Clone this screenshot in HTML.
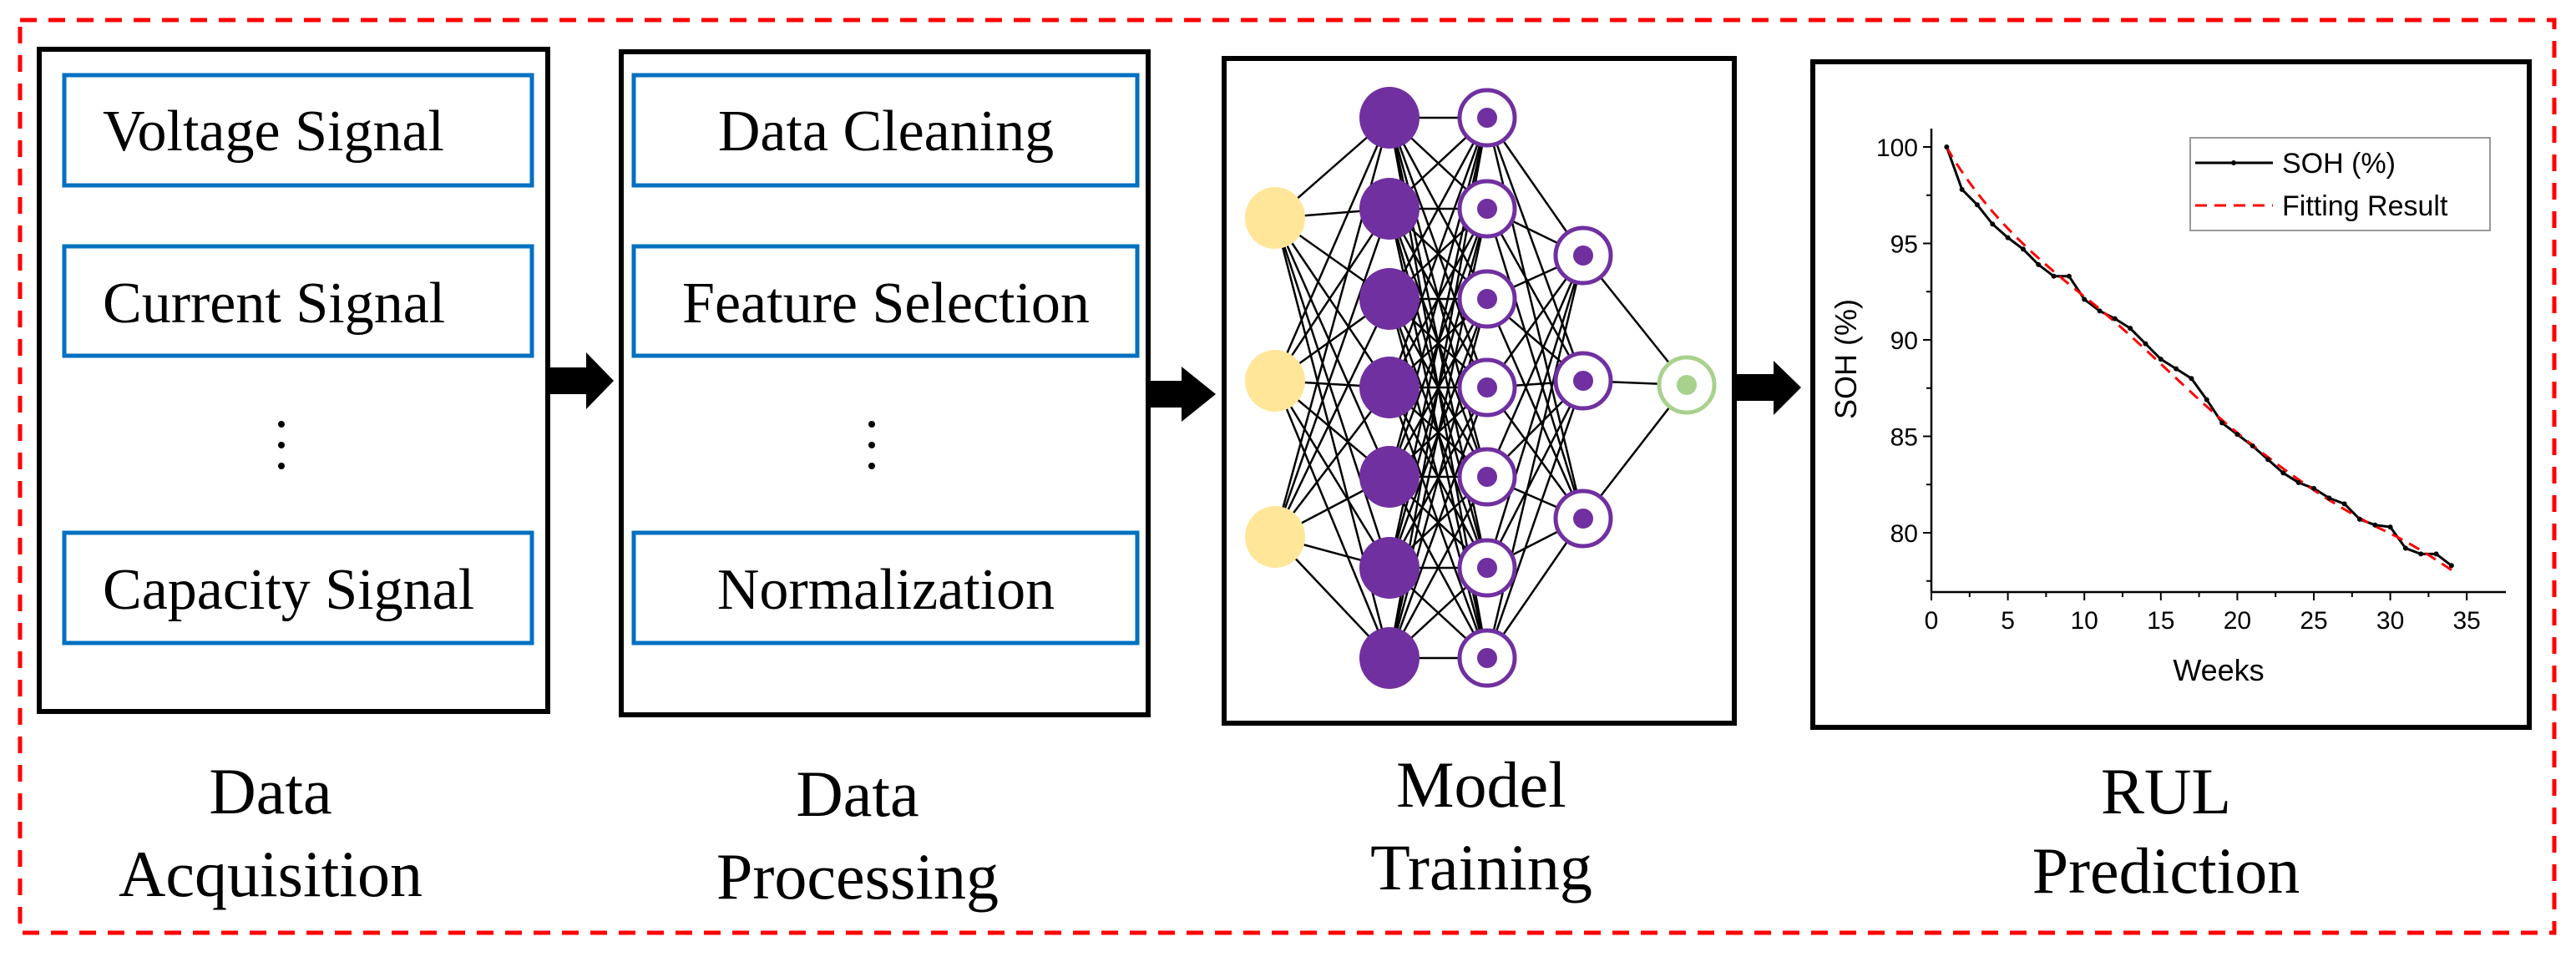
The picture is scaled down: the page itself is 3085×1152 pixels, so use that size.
<!DOCTYPE html>
<html><head><meta charset="utf-8"><style>html,body{margin:0;padding:0;background:#fff}svg{display:block}</style></head>
<body>
<svg id="s" width="3085" height="1152" viewBox="0 0 3085 1152" xmlns="http://www.w3.org/2000/svg">
<rect x="0" y="0" width="3085" height="1152" fill="#fff"/>
<rect x="24" y="24" width="3035" height="1093" fill="none" stroke="#ff0000" stroke-width="5" stroke-dasharray="20 14"/>
<rect x="47" y="59" width="609" height="793" fill="none" stroke="#000" stroke-width="6"/>
<g fill="none" stroke="#0070c0" stroke-width="5">
<rect x="77" y="90" width="560" height="132"/><rect x="77" y="295" width="560" height="131"/><rect x="77" y="638" width="560" height="132"/>
<rect x="759" y="90" width="603" height="132"/><rect x="759" y="295" width="603" height="131"/><rect x="759" y="638" width="603" height="132"/>
</g>
<rect x="744" y="62" width="631" height="794" fill="none" stroke="#000" stroke-width="6"/>
<g font-family="Liberation Serif, serif" font-size="70" fill="#000">
<text x="123" y="180">Voltage Signal</text>
<text x="123" y="386">Current Signal</text>
<text x="123" y="729">Capacity Signal</text>
<text x="1061" y="180" text-anchor="middle">Data Cleaning</text>
<text x="1061" y="386" text-anchor="middle">Feature Selection</text>
<text x="1061" y="729" text-anchor="middle">Normalization</text>
</g>
<g fill="#000"><circle cx="337" cy="508" r="4"/><circle cx="337" cy="533" r="4"/><circle cx="337" cy="558" r="4"/>
<circle cx="1044" cy="508" r="4"/><circle cx="1044" cy="533" r="4"/><circle cx="1044" cy="558" r="4"/></g>
<polygon points="656,440 702,440 702,422 735,456 702,490 702,472 656,472" fill="#000"/>
<polygon points="1375,456 1415,456 1415,439 1456,472 1415,505 1415,488 1375,488" fill="#000"/>
<polygon points="2077,448 2124,448 2124,432 2157,464 2124,497 2124,480 2077,480" fill="#000"/>
<rect x="1466" y="70" width="611" height="796" fill="none" stroke="#000" stroke-width="6"/>
<g id="edges" stroke="#000" stroke-width="2.5"></g>
<g id="nodes"></g>
<rect x="2171" y="74" width="858" height="797" fill="none" stroke="#000" stroke-width="6"/>
<g stroke="#000" stroke-width="2.5" fill="none">
<line x1="2313" y1="154" x2="2313" y2="710"/><line x1="2312" y1="709" x2="3001" y2="709"/>
</g>
<g id="ticks" stroke="#000" stroke-width="2"></g>
<g font-family="Liberation Sans, sans-serif" font-size="30" fill="#000" id="labels"></g>
<text x="2657" y="815" font-family="Liberation Sans, sans-serif" font-size="36" text-anchor="middle">Weeks</text>
<text transform="translate(2223,430) rotate(-90)" font-family="Liberation Sans, sans-serif" font-size="36" text-anchor="middle">SOH (%)</text>
<rect x="2623" y="165" width="359" height="111" fill="#fff" stroke="#999" stroke-width="2"/>
<line x1="2629" y1="195" x2="2722" y2="195" stroke="#000" stroke-width="3"/><circle cx="2675" cy="195" r="3" fill="#000"/>
<line x1="2629" y1="246" x2="2722" y2="246" stroke="#ff0000" stroke-width="3" stroke-dasharray="14 9"/>
<g font-family="Liberation Sans, sans-serif" font-size="34" fill="#000">
<text x="2733" y="207">SOH (%)</text><text x="2733" y="258">Fitting Result</text></g>
<polyline id="soh" fill="none" stroke="#000" stroke-width="3"/>
<path d="M2331,176 C2380,260 2440,310 2496,355 C2560,405 2620,470 2679,518 C2740,568 2800,610 2863,639 C2895,655 2920,672 2938,684" fill="none" stroke="#ff0000" stroke-width="3" stroke-dasharray="14 9"/>
<g font-family="Liberation Serif, serif" font-size="78" fill="#000" text-anchor="middle">
<text x="324" y="974">Data</text><text x="324" y="1073">Acquisition</text>
<text x="1027" y="977">Data</text><text x="1027" y="1076">Processing</text>
<text x="1774" y="966">Model</text><text x="1774" y="1065">Training</text>
<text x="2594" y="974">RUL</text><text x="2594" y="1069">Prediction</text>
</g>
</svg>
<script>
var NS="http://www.w3.org/2000/svg";
function el(p,t,a){var e=document.createElementNS(NS,t);for(var k in a)e.setAttribute(k,a[k]);p.appendChild(e);return e;}
var E=document.getElementById('edges'),N=document.getElementById('nodes');
var ys7=[141,250,358,464,571,680,788];
var L0=[[1527,261],[1527,456],[1527,643]];
var L1=ys7.map(function(y){return[1664,y]});
var L2=ys7.map(function(y){return[1781,y]});
var L3=[[1896,306],[1896,456],[1896,621]];
var L4=[[2020,461]];
function conn(A,B){A.forEach(function(a){B.forEach(function(b){el(E,'line',{x1:a[0],y1:a[1],x2:b[0],y2:b[1]});});});}
conn(L0,L1);conn(L1,L2);conn(L2,L3);conn(L3,L4);
L0.forEach(function(p){el(N,'ellipse',{cx:p[0],cy:p[1],rx:36,ry:37,fill:'#ffe699'});});
L1.forEach(function(p){el(N,'ellipse',{cx:p[0],cy:p[1],rx:36,ry:37,fill:'#7030a0'});});
L2.concat(L3).forEach(function(p){el(N,'circle',{cx:p[0],cy:p[1],r:33,fill:'#fff',stroke:'#7030a0','stroke-width':5});el(N,'circle',{cx:p[0],cy:p[1],r:12,fill:'#7030a0'});});
L4.forEach(function(p){el(N,'circle',{cx:p[0],cy:p[1],r:33,fill:'#fff',stroke:'#a9d18e','stroke-width':5});el(N,'circle',{cx:p[0],cy:p[1],r:12,fill:'#a9d18e'});});
var T=document.getElementById('ticks'),Lb=document.getElementById('labels');
function X(w){return 2313+w*18.32;}function Y(v){return 176+(100-v)*23.1;}
for(var w=0;w<=37;w+=2.5){var big=(w%5==0);el(T,'line',{x1:X(w),y1:709,x2:X(w),y2:709+(big?10:6)});}
for(var w=0;w<=35;w+=5){var t=el(Lb,'text',{x:X(w),y:753,'text-anchor':'middle'});t.textContent=w;}
for(var v=77.5;v<=102;v+=2.5){var big=(v%5==0);el(T,'line',{x1:2313,y1:Y(v),x2:2313-(big?10:6),y2:Y(v)});}
for(var v=80;v<=100;v+=5){var t=el(Lb,'text',{x:2297,y:Y(v)+11,'text-anchor':'end'});t.textContent=v;}
var d=[100,97.8,97,96,95.3,94.7,93.9,93.3,93.3,92.1,91.5,91.1,90.6,89.8,89,88.5,88,86.9,85.7,85.1,84.5,83.8,83.1,82.6,82.3,81.8,81.5,80.7,80.4,80.3,79.2,78.9,78.9,78.3];
var pts=d.map(function(v,i){return X(i+1)+','+Y(v)}).join(' ');
document.getElementById('soh').setAttribute('points',pts);
var S=document.getElementById('s');
d.forEach(function(v,i){el(S,'circle',{cx:X(i+1),cy:Y(v),r:3,fill:'#000'});});
</script>
</body></html>
